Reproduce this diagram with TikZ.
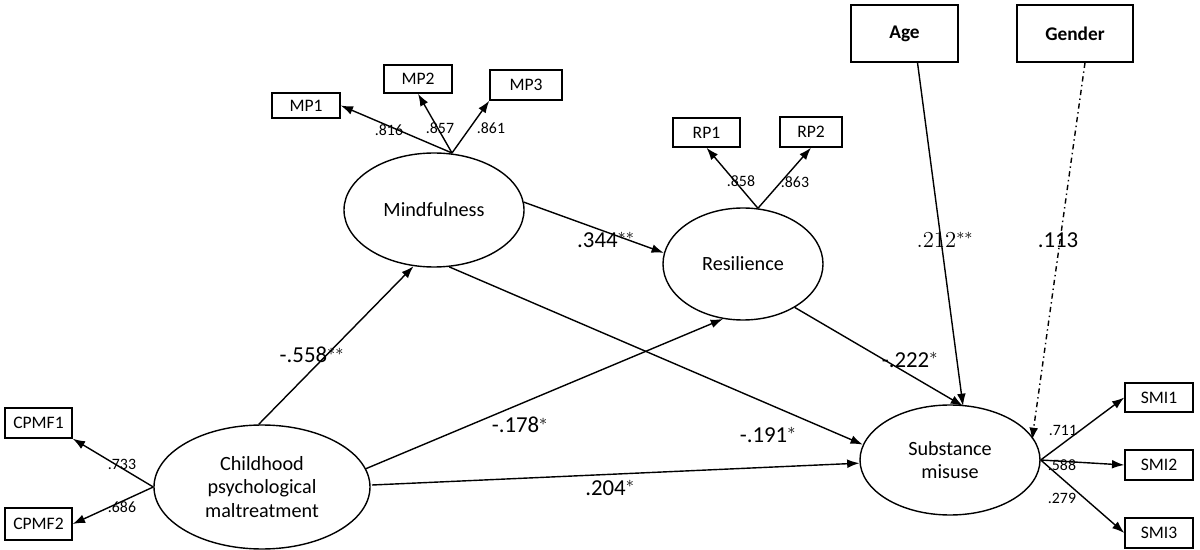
\documentclass[tikz,border=0pt]{standalone}
\usepackage{fontspec}
\setmainfont{Carlito}
\usetikzlibrary{shapes.geometric,arrows.meta}
\begin{document}
\begin{tikzpicture}[x=0.02cm,y=-0.02cm,
  box/.style={draw,thick,minimum width=#1*0.02cm,inner sep=0pt,font=\fontsize{10}{11}\selectfont},
  lat/.style={draw,thick,ellipse,inner sep=0pt,font=\fontsize{11.5}{13.5}\selectfont,align=center},
  arr/.style={thick,-{Latex[length=7pt,width=5pt]}},
  sm/.style={font=\fontsize{9}{10}\selectfont,inner sep=1pt},
  big/.style={font=\fontsize{13}{15}\selectfont,inner sep=1pt}]
\useasboundingbox (0,0) rectangle (1200,550);
% boxes
\node[box=107,minimum height=57*0.02cm,font=\bfseries\fontsize{11}{13}\selectfont] (age) at (904.5,33.5) {Age};
\node[box=116,minimum height=57*0.02cm,font=\bfseries\fontsize{11}{13}\selectfont] (gen) at (1075,33.5) {Gender};
\node[box=68,minimum height=25*0.02cm] (mp1) at (306,105.5) {MP1};
\node[box=68,minimum height=28*0.02cm] (mp2) at (418,79) {MP2};
\node[box=72,minimum height=30*0.02cm] (mp3) at (526,85) {MP3};
\node[box=67,minimum height=29*0.02cm] (rp1) at (706.5,132.5) {RP1};
\node[box=62,minimum height=30*0.02cm] (rp2) at (811,132) {RP2};
\node[box=67,minimum height=30*0.02cm] (c1) at (38.5,423) {CPMF1};
\node[box=67,minimum height=32*0.02cm] (c2) at (38.5,524) {CPMF2};
\node[box=68,minimum height=29*0.02cm] (s1) at (1159,397.5) {SMI1};
\node[box=68,minimum height=30*0.02cm] (s2) at (1159,465) {SMI2};
\node[box=68,minimum height=30*0.02cm] (s3) at (1159,533) {SMI3};
% latents
\node[lat,minimum width=180*0.02cm,minimum height=114*0.02cm] (mind) at (434,210) {Mindfulness};
\node[lat,minimum width=160*0.02cm,minimum height=112*0.02cm] (res) at (743,264) {Resilience};
\node[lat,minimum width=216*0.02cm,minimum height=124*0.02cm] (cpm) at (262,487) {Childhood\\psychological\\maltreatment};
\node[lat,minimum width=180*0.02cm,minimum height=110*0.02cm] (sub) at (950,460) {Substance\\misuse};
% loadings
\coordinate (mt) at (452,153);
\draw[arr] (mt) -- (mp1.east); \draw[arr] (mt) -- (mp2.south); \draw[arr] (mt) -- (mp3.south west);
\node[sm] at (389,130) {.816}; \node[sm] at (440,128) {.857}; \node[sm] at (491,128) {.861};
\coordinate (rt) at (res.75);
\draw[arr] (rt) -- (rp1.south); \draw[arr] (rt) -- (rp2.south);
\node[sm] at (741,181) {.858}; \node[sm] at (795,182) {.863};
\draw[arr] (cpm.west) -- (c1.south east); \draw[arr] (cpm.west) -- (c2.east);
\node[sm] at (122,464) {.733}; \node[sm] at (122,507) {.686};
\draw[arr] (sub.east) -- (s1.west); \draw[arr] (sub.east) -- (s2.west); \draw[arr] (sub.east) -- (s3.west);
\node[sm] at (1063,430) {.711}; \node[sm] at (1062,465) {.588}; \node[sm] at (1062,498) {.279};
% paths
\coordinate (subtop) at (963,406);
\draw[arr] (age.south) ++(13,0) -- (subtop);
\node[font=\fontfamily{lmr}\fontsize{13}{15}\selectfont] at (945,240) {.212$^{**}$};
\draw[arr,dash dot] (gen.south) ++(10,0) -- (1032,440);
\node[big] at (1058,240) {.113};
\draw[arr] (cpm.93) -- (mind.250);
\node[big] at (312,355) {-.558$^{**}$};
\draw[arr] (cpm.10) -- (res.250);
\node[big] at (520,425) {-.178$^{*}$};
\draw[arr] (372,485) -- (sub.182);
\node[big] at (610,488) {.204$^{*}$};
\draw[arr] (mind.285) -- (sub.170);
\node[big] at (768,435) {-.191$^{*}$};
\draw[arr] (mind.5) -- (res.172);
\node[big] at (606,240) {.344$^{**}$};
\draw[arr] (res.320) -- (subtop);
\node[big] at (910,360) {-.222$^{*}$};
\end{tikzpicture}
\end{document}
